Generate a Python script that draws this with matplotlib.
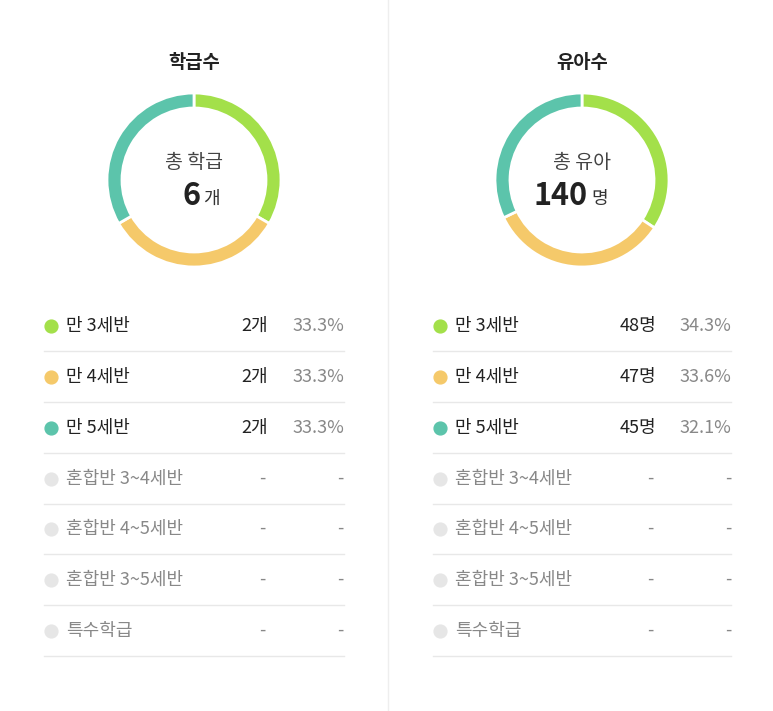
import matplotlib
matplotlib.use("Agg")
from matplotlib import pyplot as plt

plt.rcParams["font.family"] = "Noto Sans CJK KR"

titles = ["학급수", "유아수"]
center_labels = ["총 학급", "총 유아"]
totals = ["6", "140"]
units = ["개", "명"]
categories = ["만 3세반", "만 4세반", "만 5세반", "혼합반 3~4세반", "혼합반 4~5세반", "혼합반 3~5세반", "특수학급"]
class_values = [2, 2, 2]
class_pcts = ["33.3%", "33.3%", "33.3%"]
child_values = [48, 47, 45]
child_pcts = ["34.3%", "33.6%", "32.1%"]
colors = ["#a3e04a", "#f5c96a", "#5cc4ab"]
empty_color = "#e6e6e6"

W, H = 773, 711
fig = plt.figure(figsize=(W / 100, H / 100), dpi=100)
ax = fig.add_axes([0, 0, 1, 1])
ax.set_xlim(0, W)
ax.set_ylim(H, 0)
ax.axis("off")
ax.plot([388, 388], [0, H], color="#eeeeee", lw=1)

panels = [
    (194, 44, 268, 344, class_values, class_pcts),
    (582, 433, 656, 731, child_values, child_pcts),
]
row_y = [326, 377, 428, 479, 529, 580, 631]

for i, (cx, x0, xv, x1, vals, pcts) in enumerate(panels):
    ax.text(cx, 62, titles[i], ha="center", va="center", fontsize=13.5, fontweight="bold", color="#222222")
    # donut
    r = 87
    pax = fig.add_axes([(cx - r) / W, 1 - (180 + r) / H, 2 * r / W, 2 * r / H])
    pax.pie(vals, colors=colors, startangle=90, counterclock=False,
            wedgeprops=dict(width=15 / r, edgecolor="white", linewidth=2))
    pax.set_xlim(-1, 1)
    pax.set_ylim(-1, 1)
    pax.set_aspect("equal")
    pax.axis("off")
    ax.text(cx, 162, center_labels[i], ha="center", va="center", fontsize=14, color="#444444")
    ax.text(cx + 6, 196, totals[i], ha="right", va="center", fontsize=22, fontweight="bold", color="#222222")
    ax.text(cx + 9, 199, units[i], ha="left", va="center", fontsize=13, color="#333333")

    for j, cat in enumerate(categories):
        y = row_y[j]
        active = j < len(vals)
        dot = colors[j] if active else empty_color
        tc = "#222222" if active else "#888888"
        ax.scatter([x0 + 7], [y], s=85, color=dot, zorder=3)
        ax.text(x0 + 22, y, cat, ha="left", va="center", fontsize=13, color=tc)
        if active:
            ax.text(xv, y, f"{vals[j]}{units[i]}", ha="right", va="center", fontsize=13, color="#222222")
            ax.text(x1, y, pcts[j], ha="right", va="center", fontsize=13, color="#888888")
        else:
            ax.text(xv - 3, y, "-", ha="right", va="center", fontsize=13, color="#888888")
            ax.text(x1, y, "-", ha="right", va="center", fontsize=13, color="#888888")
        ax.plot([x0, x1], [y + 25, y + 25], color="#e8e8e8", lw=1)

fig.savefig("out.png", dpi=100)
